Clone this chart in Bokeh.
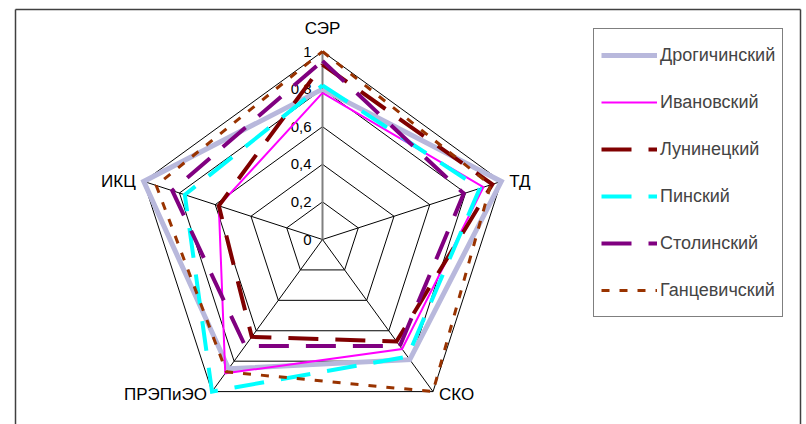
import numpy as np
from bokeh.plotting import figure
from bokeh.models import Range1d, Legend, LegendItem
from bokeh.core.properties import value
from bokeh.embed import file_html
from bokeh.resources import INLINE

# ---- data ----
categories = ["СЭР", "ТД", "СКО", "ПРЭПиЭО", "ИКЦ"]
series_names = ["Дрогичинский", "Ивановский", "Лунинецкий", "Пинский", "Столинский", "Ганцевичский"]
drogichin = [0.80, 1.00, 0.79, 0.85, 1.00]
ivanovo = [0.78, 0.90, 0.72, 0.88, 0.58]
luninets = [0.93, 0.95, 0.67, 0.64, 0.58]
pinsk = [0.82, 0.88, 0.77, 1.00, 0.77]
stolin = [0.95, 0.79, 0.70, 0.70, 0.84]
gantsevichi = [1.00, 0.94, 1.00, 0.87, 0.93]
tick_values = [0, 0.2, 0.4, 0.6, 0.8, 1.0]
tick_labels = ["0", "0,2", "0,4", "0,6", "0,8", "1"]

series_values = [drogichin, ivanovo, luninets, pinsk, stolin, gantsevichi]
styles = [
    dict(line_color="#B8B8DC", line_width=5, line_dash="solid"),
    dict(line_color="#FF00FF", line_width=2, line_dash="solid"),
    dict(line_color="#800000", line_width=4, line_dash="30 17"),
    dict(line_color="#00FFFF", line_width=4, line_dash="30 17"),
    dict(line_color="#800080", line_width=4, line_dash="30 17"),
    dict(line_color="#993300", line_width=3, line_dash="8 10"),
]

# ---- geometry ----
W, H = 806, 424
CX, CY, R = 322, 239, 188  # canvas px of centre, px per unit
n = len(categories)
angles = np.pi / 2 - np.arange(n) * 2 * np.pi / n


def to_xy(vals):
    v = np.asarray(vals, dtype=float)
    return v * np.cos(angles), v * np.sin(angles)


def px(cx, cy):
    return (cx - CX) / R, (CY - cy) / R


p = figure(width=W, height=H, output_backend="svg", toolbar_location=None,
           x_range=Range1d(-CX / R, (W - CX) / R),
           y_range=Range1d(-(H - CY) / R, CY / R),
           min_border=0, min_border_left=0, min_border_right=0,
           min_border_top=0, min_border_bottom=0)
p.axis.visible = False
p.grid.visible = False
p.outline_line_color = None
p.background_fill_color = "white"

# outer chart border (top, left, right)
bx0, by0 = px(15, 9)
bx1, _ = px(800, 9)
_, bybot = px(15, H + 5)
p.multi_line(xs=[[bx0, bx1], [bx0, bx0], [bx1, bx1]],
             ys=[[by0, by0], [by0, bybot], [by0, bybot]],
             line_color="#404040", line_width=1.5)

# grid rings
for t in tick_values[1:]:
    gx, gy = to_xy([t] * n)
    p.line(list(gx) + [gx[0]], list(gy) + [gy[0]], line_color="black", line_width=1)

# spokes
ox, oy = to_xy([1.0] * n)
for i in range(1, n):
    p.line([0, ox[i]], [0, oy[i]], line_color="black", line_width=1)
p.line([0, ox[0]], [0, oy[0]], line_color="#808080", line_width=2)

# tick labels
p.text(x=[0] * len(tick_values), y=tick_values, text=tick_labels,
       text_font=value("Liberation Sans"), text_font_size="15px",
       text_align="right", text_baseline="middle", x_offset=-11,
       text_color="black")

# category labels
offs = [(0, -23, "center"), (8, 0, "left"), (6, 3, "left"), (-5, 3, "right"), (-8, 0, "right")]
for i, c in enumerate(categories):
    p.text(x=[ox[i]], y=[oy[i]], text=[c], text_font=value("Liberation Sans"),
           text_font_size="17px", text_align=offs[i][2], text_baseline="middle",
           x_offset=offs[i][0], y_offset=offs[i][1], text_color="black")

# series
items = []
for name, vals, st in zip(series_names, series_values, styles):
    sx, sy = to_xy(vals)
    r = p.line(list(sx) + [sx[0]], list(sy) + [sy[0]], line_join="miter", **st)
    items.append(LegendItem(label=name, renderers=[r]))

legend = Legend(items=items, location=(593, 107), padding=7, spacing=9,
                glyph_width=56, glyph_height=38, label_standoff=3,
                label_text_font="Liberation Sans", label_text_font_size="18px",
                border_line_color="black", border_line_width=1.5,
                background_fill_color="white", background_fill_alpha=1.0, margin=0)
p.add_layout(legend)

open("out.html", "w").write(file_html(p, INLINE))
